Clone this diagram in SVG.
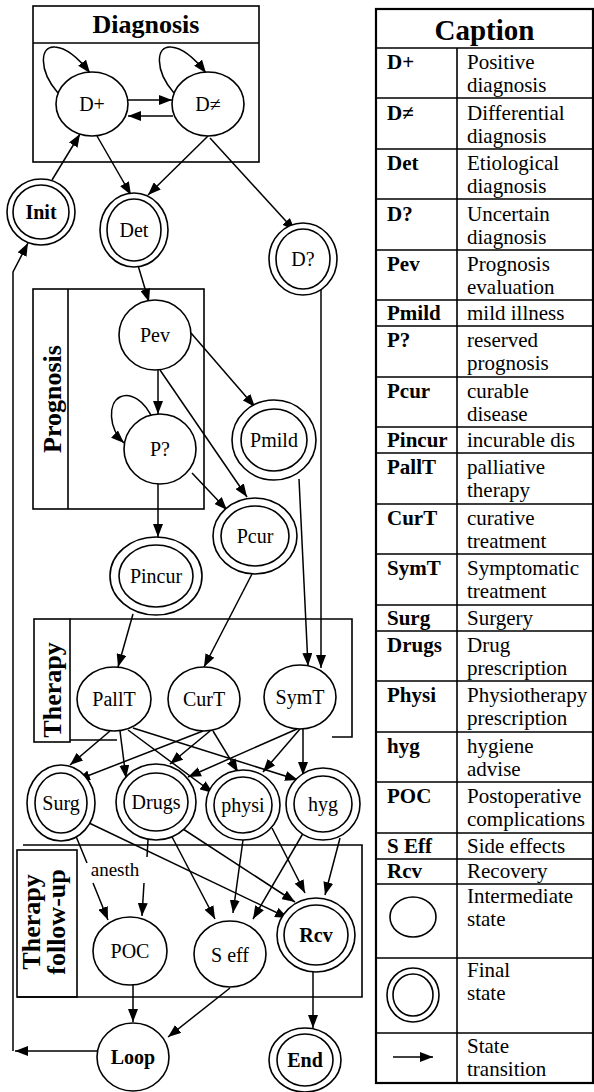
<svg xmlns="http://www.w3.org/2000/svg" width="594" height="1092" viewBox="0 0 594 1092">
<defs>
<marker id="ah" markerUnits="userSpaceOnUse" markerWidth="13" markerHeight="10" refX="13" refY="5" orient="auto">
<path d="M0,0 L13,5 L0,10 z" fill="#000"/>
</marker>
</defs>
<style>
text{font-family:"Liberation Serif","Times New Roman",serif;fill:#000}
.n{font-size:20px;text-anchor:middle}
.b{font-weight:bold}
.st{fill:#fff;stroke:#000;stroke-width:1.6}
.fi{fill:none;stroke:#000;stroke-width:1.6}
.box{fill:none;stroke:#000;stroke-width:1.6}
.e{fill:none;stroke:#000;stroke-width:1.5;marker-end:url(#ah)}
.l{fill:none;stroke:#000;stroke-width:1.5}
.title{font-size:26px;font-weight:bold;text-anchor:middle}
.t{font-size:21px}
.tb{font-size:21px;font-weight:bold}
.tl{stroke:#000;stroke-width:1.6}
</style>
<rect x="0" y="0" width="594" height="1092" fill="#fff"/>

<g id="boxes">
<rect class="box" x="33" y="6" width="226" height="156"/>
<line class="tl" x1="33" y1="43" x2="259" y2="43"/>
<text class="title" x="146" y="33">Diagnosis</text>

<rect class="box" x="33" y="289" width="171" height="220"/>
<line class="tl" x1="68" y1="289" x2="68" y2="509"/>
<text class="title" transform="translate(61,399) rotate(-90)">Prognosis</text>

<rect class="box" x="34" y="619" width="36" height="123"/>
<path class="box" d="M70,619 L352,619 L352,737 L332,737 M70,740 L117,740"/>
<text class="title" transform="translate(61,690) rotate(-90)">Therapy</text>

<rect class="box" x="17" y="850" width="60" height="147"/>
<path class="box" d="M23,845 L362,845 L362,997 L17,997"/>
<text class="title" transform="translate(40,922) rotate(-90)">Therapy</text>
<text class="title" transform="translate(65,922) rotate(-90)">follow-up</text>
</g>

<g id="connectors">
<path class="e" d="M58,93 C38,70 40,45 55,47 C68,48 80,60 90,73"/>
<path class="e" d="M174,93 C154,70 156,45 171,47 C184,48 196,60 206,73"/>
<path class="e" d="M128,100 L172,100"/>
<path class="e" d="M173,116 L128,116"/>
<path class="e" d="M52,180 L80,134"/>
<path class="e" d="M97,136 L131,195"/>
<path class="e" d="M208,136 L148,195"/>
<path class="e" d="M210,138 L295,231"/>
<path class="e" d="M137,262 L149,302"/>
<path class="e" d="M158,370 L158,414"/>
<path class="e" d="M153,420 C145,400 130,392 120,397 C108,403 108,428 124,443"/>
<path class="e" d="M191,333 L255,407"/>
<path class="e" d="M160,370 L247,497"/>
<path class="e" d="M192,473 L227,510"/>
<path class="e" d="M158,484 L158,537"/>
<path class="e" d="M321,289 L321,668"/>
<path class="e" d="M299,479 L308,666"/>
<path class="e" d="M133,614 L118,667"/>
<path class="e" d="M252,574 L204,667"/>
<path class="e" d="M110,731 L70,765"/>
<path class="e" d="M120,731 L126,778"/>
<path class="e" d="M128,730 L213,793"/>
<path class="e" d="M133,728 L298,780"/>
<path class="e" d="M203,731 L77,780"/>
<path class="e" d="M210,731 L170,764"/>
<path class="e" d="M213,731 L238,772"/>
<path class="e" d="M297,729 L188,777"/>
<path class="e" d="M300,729 L263,772"/>
<path class="e" d="M303,729 L303,775"/>
<path class="e" d="M73,829 L87,863 M93,883 L108,920"/>
<path class="e" d="M148,840 L147,857 M144,883 L142,916"/>
<text id="anesth" x="115" y="876" style="font-size:19px;text-anchor:middle">anesth</text>
<path class="e" d="M87,822 L288,918"/>
<path class="e" d="M170,833 L215,919"/>
<path class="e" d="M180,827 L295,902"/>
<path class="e" d="M243,840 L233,913"/>
<path class="e" d="M272,828 L305,893"/>
<path class="e" d="M305,830 L253,919"/>
<path class="e" d="M340,838 L325,895"/>
<path class="e" d="M133,985 L133,1022"/>
<path class="e" d="M230,988 L168,1037"/>
<path class="e" d="M97,1051 L15,1051"/>
<path class="e" d="M13,1051 L13,272 L28,243"/>
<path class="e" d="M313,972 L313,1028"/>
</g>

<g id="D_plus"><ellipse class="st" cx="92" cy="104" rx="36" ry="32"/><text class="n" x="92" y="111">D+</text></g>
<g id="D_neq"><ellipse class="st" cx="208" cy="104" rx="36" ry="32"/><text class="n" x="208" y="111">D≠</text></g>
<g id="Init"><ellipse class="st" cx="41" cy="212" rx="34" ry="33"/><ellipse class="fi" cx="41" cy="212" rx="28" ry="27"/><text class="n b" x="41" y="219">Init</text></g>
<g id="Det"><ellipse class="st" cx="134" cy="230" rx="34" ry="37"/><ellipse class="fi" cx="134" cy="230" rx="27" ry="31"/><text class="n" x="134" y="237">Det</text></g>
<g id="D_q"><ellipse class="st" cx="303" cy="259" rx="34" ry="36"/><ellipse class="fi" cx="303" cy="259" rx="27" ry="30"/><text class="n" x="303" y="266">D?</text></g>
<g id="Pev"><ellipse class="st" cx="155" cy="335" rx="36" ry="35"/><text class="n" x="155" y="342">Pev</text></g>
<g id="P_q"><ellipse class="st" cx="160" cy="449" rx="36" ry="35"/><text class="n" x="160" y="456">P?</text></g>
<g id="Pmild"><ellipse class="st" cx="274" cy="440" rx="42" ry="40"/><ellipse class="fi" cx="274" cy="440" rx="33" ry="31"/><text class="n" x="274" y="447">Pmild</text></g>
<g id="Pcur"><ellipse class="st" cx="255" cy="536" rx="42" ry="38"/><ellipse class="fi" cx="255" cy="536" rx="34" ry="30"/><text class="n" x="255" y="543">Pcur</text></g>
<g id="Pincur"><ellipse class="st" cx="156" cy="576" rx="46" ry="39"/><ellipse class="fi" cx="156" cy="576" rx="37" ry="31"/><text class="n" x="156" y="583">Pincur</text></g>
<g id="PallT"><ellipse class="st" cx="114" cy="699" rx="37" ry="32"/><text class="n" x="114" y="706">PallT</text></g>
<g id="CurT"><ellipse class="st" cx="204" cy="699" rx="36" ry="32"/><text class="n" x="204" y="706">CurT</text></g>
<g id="SymT"><ellipse class="st" cx="300" cy="697" rx="36" ry="32"/><text class="n" x="300" y="704">SymT</text></g>
<g id="Surg"><ellipse class="st" cx="61" cy="803" rx="34" ry="38"/><ellipse class="fi" cx="61" cy="803" rx="26" ry="30"/><text class="n" x="61" y="810">Surg</text></g>
<g id="Drugs"><ellipse class="st" cx="156" cy="802" rx="40" ry="38"/><ellipse class="fi" cx="156" cy="802" rx="32" ry="29"/><text class="n" x="156" y="809">Drugs</text></g>
<g id="physi"><ellipse class="st" cx="243" cy="805" rx="37" ry="35"/><ellipse class="fi" cx="243" cy="805" rx="29" ry="28"/><text class="n" x="243" y="812">physi</text></g>
<g id="hyg"><ellipse class="st" cx="323" cy="804" rx="37" ry="36"/><ellipse class="fi" cx="323" cy="804" rx="29" ry="28"/><text class="n" x="323" y="811">hyg</text></g>
<g id="POC"><ellipse class="st" cx="130" cy="951" rx="37" ry="34"/><text class="n" x="130" y="958">POC</text></g>
<g id="S_eff"><ellipse class="st" cx="230" cy="954" rx="36" ry="33"/><text class="n" x="230" y="962">S eff</text></g>
<g id="Rcv"><ellipse class="st" cx="316" cy="935" rx="39" ry="37"/><ellipse class="fi" cx="316" cy="935" rx="32" ry="30"/><text class="n b" x="316" y="942">Rcv</text></g>
<g id="Loop"><ellipse class="st" cx="133" cy="1057" rx="36" ry="34"/><text class="n b" x="133" y="1064">Loop</text></g>
<g id="End"><ellipse class="st" cx="305" cy="1060" rx="36" ry="32"/><ellipse class="fi" cx="305" cy="1060" rx="28" ry="26"/><text class="n b" x="305" y="1067">End</text></g>

<g id="caption">
<rect x="376" y="9" width="217" height="1074" fill="none" stroke="#000" stroke-width="2.2"/>
<text x="484.5" y="40" style="font-size:29px;font-weight:bold;text-anchor:middle">Caption</text>
<line class="tl" x1="457" y1="48" x2="457" y2="1083"/>
<path class="tl" fill="none" d="M376,48 H593 M376,98 H593 M376,149 H593 M376,199 H593 M376,250 H593 M376,300 H593 M376,326 H593 M376,377 H593 M376,427 H593 M376,453 H593 M376,504 H593 M376,554 H593 M376,605 H593 M376,631 H593 M376,681 H593 M376,732 H593 M376,782 H593 M376,833 H593 M376,859 H593 M376,884 H593 M376,958 H593 M376,1033 H593"/>

<text class="tb" x="387" y="69">D+</text><text class="t" x="467" y="69">Positive</text><text class="t" x="467" y="92">diagnosis</text>
<text class="tb" x="387" y="120">D≠</text><text class="t" x="467" y="120">Differential</text><text class="t" x="467" y="143">diagnosis</text>
<text class="tb" x="387" y="170">Det</text><text class="t" x="467" y="170">Etiological</text><text class="t" x="467" y="193">diagnosis</text>
<text class="tb" x="387" y="221">D?</text><text class="t" x="467" y="221">Uncertain</text><text class="t" x="467" y="244">diagnosis</text>
<text class="tb" x="387" y="271">Pev</text><text class="t" x="467" y="271">Prognosis</text><text class="t" x="467" y="294">evaluation</text>
<text class="tb" x="387" y="320">Pmild</text><text class="t" x="467" y="320">mild illness</text>
<text class="tb" x="387" y="347">P?</text><text class="t" x="467" y="347">reserved</text><text class="t" x="467" y="370">prognosis</text>
<text class="tb" x="387" y="398">Pcur</text><text class="t" x="467" y="398">curable</text><text class="t" x="467" y="421">disease</text>
<text class="tb" x="387" y="447">Pincur</text><text class="t" x="467" y="447">incurable dis</text>
<text class="tb" x="387" y="474">PallT</text><text class="t" x="467" y="474">palliative</text><text class="t" x="467" y="497">therapy</text>
<text class="tb" x="387" y="525">CurT</text><text class="t" x="467" y="525">curative</text><text class="t" x="467" y="548">treatment</text>
<text class="tb" x="387" y="575">SymT</text><text class="t" x="467" y="575">Symptomatic</text><text class="t" x="467" y="598">treatment</text>
<text class="tb" x="387" y="625">Surg</text><text class="t" x="467" y="625">Surgery</text>
<text class="tb" x="387" y="652">Drugs</text><text class="t" x="467" y="652">Drug</text><text class="t" x="467" y="675">prescription</text>
<text class="tb" x="387" y="702">Physi</text><text class="t" x="467" y="702">Physiotherapy</text><text class="t" x="467" y="725">prescription</text>
<text class="tb" x="387" y="753">hyg</text><text class="t" x="467" y="753">hygiene</text><text class="t" x="467" y="776">advise</text>
<text class="tb" x="387" y="803">POC</text><text class="t" x="467" y="803">Postoperative</text><text class="t" x="467" y="826">complications</text>
<text class="tb" x="387" y="853">S Eff</text><text class="t" x="467" y="853">Side effects</text>
<text class="tb" x="387" y="878">Rcv</text><text class="t" x="467" y="878">Recovery</text>

<ellipse class="fi" cx="413" cy="917" rx="23" ry="20"/>
<text class="t" x="467" y="903">Intermediate</text><text class="t" x="467" y="926">state</text>
<ellipse class="fi" cx="413" cy="995" rx="26" ry="27"/><ellipse class="fi" cx="413" cy="995" rx="20" ry="21"/>
<text class="t" x="467" y="977">Final</text><text class="t" x="467" y="1000">state</text>
<path class="e" d="M393,1057 L433,1057"/>
<text class="t" x="467" y="1053">State</text><text class="t" x="467" y="1076">transition</text>
</g>
</svg>
